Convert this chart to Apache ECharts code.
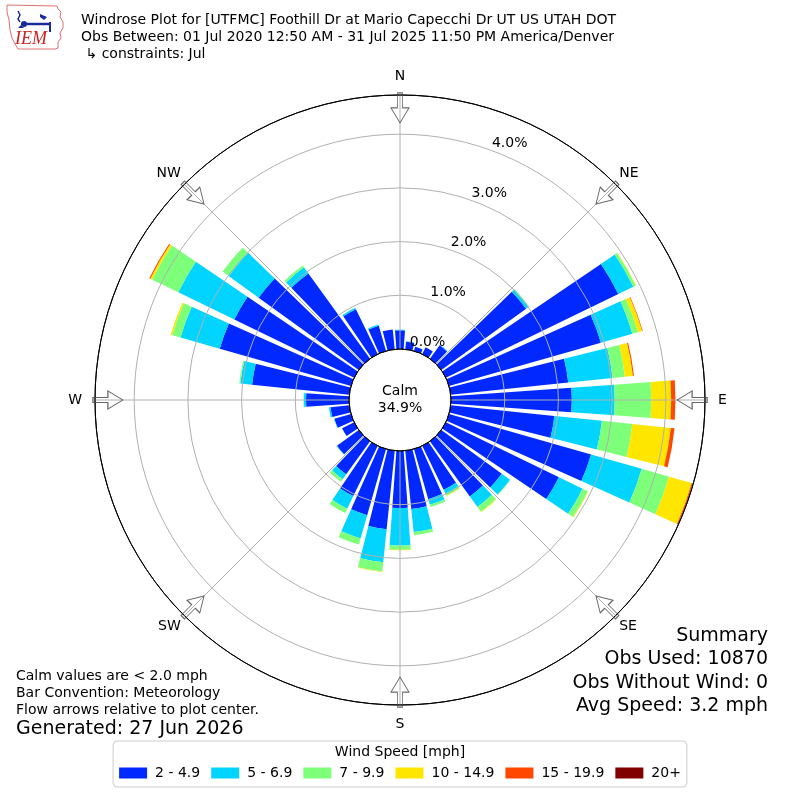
<!DOCTYPE html>
<html><head><meta charset="utf-8">
<script src="https://cdn.jsdelivr.net/npm/echarts@6/dist/echarts.min.js"></script>
<style>html,body{margin:0;padding:0;background:#fff}#c{width:800px;height:800px}</style>
</head><body><div id="c"></div>
<script>
// ---- data ----
const directions = [0,10,20,30,40,50,60,70,80,90,100,110,120,130,140,150,160,170,180,190,200,210,220,230,240,250,260,270,280,290,300,310,320,330,340,350];
const speedBins = ['2 - 4.9','5 - 6.9','7 - 9.9','10 - 14.9','15 - 19.9','20+'];
const binColors = ['#0028ff','#00d4ff','#7dff7a','#ffe600','#ff4700','#800000'];
// percent of observations per direction, per speed bin
const bin2to5   = [0.35,0.14,0.08,0.14,0.31,1.95,3.57,2.94,2.20,2.25,1.94,2.75,2.34,1.39,1.27,0.91,0.97,1.09,1.06,1.47,1.28,1.04,0.76,0.50,0.25,0.32,0.35,0.80,1.82,2.54,2.48,2.30,1.96,0.93,0.49,0.37];
const bin5to7   = [0.01,0.01,0.00,0.00,0.01,0.06,0.31,0.61,0.83,0.80,0.89,0.98,0.49,0.19,0.24,0.08,0.11,0.43,0.70,0.62,0.45,0.26,0.11,0.01,0.00,0.01,0.03,0.04,0.22,0.76,1.16,0.69,0.14,0.03,0.02,0.00];
const bin7to10  = [0,0,0,0,0,0.01,0.05,0.11,0.23,0.68,0.57,0.53,0.11,0.01,0.11,0.04,0.04,0.06,0.08,0.17,0.12,0.09,0.06,0,0,0,0,0.01,0.02,0.16,0.54,0.14,0.04,0,0,0];
const bin10to15 = [0,0,0,0,0,0,0.01,0.08,0.15,0.37,0.72,0.44,0.01,0,0.01,0.01,0,0,0.01,0.01,0,0,0,0,0,0,0,0,0,0.03,0.04,0,0,0,0,0];
const bin15to20 = [0,0,0,0,0,0,0,0.01,0.02,0.08,0.07,0.02,0,0,0,0,0,0,0,0,0,0,0,0,0,0,0,0,0,0,0.02,0,0,0,0,0];
const bin20plus = [0,0,0,0,0,0,0,0,0,0,0,0,0,0,0,0,0,0,0,0,0,0,0,0,0,0,0,0,0,0,0,0,0,0,0,0];
const radialTicks = [0,1,2,3,4];
const radialMax = 4.73;
const compassAngles = [0,45,90,135,180,225,270,315];
const compassNames = ['N','NE','E','SE','S','SW','W','NW'];
const calmPct = 34.9;
const titleLines = ['Windrose Plot for [UTFMC] Foothill Dr at Mario Capecchi Dr UT US UTAH DOT','Obs Between: 01 Jul 2020 12:50 AM - 31 Jul 2025 11:50 PM America/Denver',' \u21b3 constraints: Jul'];
const noteLines = ['Calm values are < 2.0 mph','Bar Convention: Meteorology','Flow arrows relative to plot center.'];
const generatedText = 'Generated: 27 Jun 2026';
const summaryLines = ['Summary','Obs Used: 10870','Obs Without Wind: 0','Avg Speed: 3.2 mph'];

const binData = [bin2to5,bin5to7,bin7to10,bin10to15,bin15to20,bin20plus];
const FONT = '"DejaVu Sans", sans-serif';
const arrowRadius = 4.49;

const chart = echarts.init(document.getElementById('c'), null, {renderer:'canvas'});

const polarRadius = [51, 305];
const barSeries = speedBins.map((name, i) => ({
  name: name, type: 'bar', coordinateSystem: 'polar', polarIndex: 1,
  stack: 'wind', barCategoryGap: '18%', data: binData[i],
  itemStyle: {color: binColors[i]}, silent: true, z: 2
}));

const arrowSeries = {
  type: 'scatter', coordinateSystem: 'polar', polarIndex: 0, silent: true, z: 20,
  symbol: 'path://M6.5,0L11.5,0L11.5,15L18,15L9,30L0,15L6.5,15Z',
  symbolSize: [18, 30], symbolKeepAspect: false,
  symbolRotate: function (v) { return -v[1]; },
  itemStyle: {color: 'rgba(255,255,255,0)', borderColor: '#444', borderWidth: 1},
  data: compassAngles.map(a => [arrowRadius, a])
};

const textEl = (x, y, text, size, align, extra) => Object.assign({
  type: 'text', x: x, y: y, silent: true,
  style: {text: text, font: 'normal ' + size + 'px ' + FONT, fill: '#000', align: align, verticalAlign: 'middle'}
}, extra || {});

const graphics = [];
titleLines.forEach((t, i) => graphics.push(textEl(81, 20 + i * 17, t, 14, 'left')));
graphics.push(textEl(400, 391, 'Calm', 14, 'center'));
graphics.push(textEl(400, 408, calmPct.toFixed(1) + '%', 14, 'center'));
noteLines.forEach((t, i) => graphics.push(textEl(16, 676 + i * 17, t, 14, 'left')));
graphics.push(textEl(16, 729, generatedText, 19, 'left'));
summaryLines.forEach((t, i) => graphics.push(textEl(768, 636 + i * 23.5, t, 19, 'right')));
graphics.push(textEl(400, 752, 'Wind Speed [mph]', 14, 'center'));
// IEM logo
graphics.push({type:'polyline', silent:true, shape:{points:[[7,5],[57,6],[58,9],[61,12],[60,17],[63,22],[63,28],[60,33],[61,38],[58,42],[58,48],[55,49],[18,49],[15,44],[12,38],[10,30],[9,20],[7,12],[7,5]]}, style:{fill:'none', stroke:'#e07070', lineWidth:1}});
graphics.push({type:'polyline', silent:true, shape:{points:[[21,24],[50,24]]}, style:{stroke:'#1a2a9a', lineWidth:2.5, fill:'none'}});
graphics.push({type:'polyline', silent:true, shape:{points:[[18,11],[20,15],[18,19],[20,22]]}, style:{stroke:'#1a2a9a', lineWidth:1.5, fill:'none'}});
graphics.push({type:'polyline', silent:true, shape:{points:[[50,22],[50,32]]}, style:{stroke:'#1a2a9a', lineWidth:2, fill:'none'}});
graphics.push({type:'polygon', silent:true, shape:{points:[[40,14],[47,17],[44,20],[40,17]]}, style:{fill:'#1a2a9a'}});
graphics.push({type:'circle', silent:true, shape:{cx:24, cy:24, r:3}, style:{fill:'#1a2a9a'}});
graphics.push({type:'polygon', silent:true, shape:{points:[[18,28],[21,25],[24,28]]}, style:{fill:'#1a2a9a'}});
graphics.push({type:'text', silent:true, x:15, y:39, style:{text:'IEM', font:'italic 18px "Liberation Serif", serif', fill:'#d02020', verticalAlign:'middle'}});

const compassRich = {
  n: {padding: [0, 0, 7, 0], fontSize: 14, fontFamily: FONT, color: '#000'},
  s: {padding: [7, 0, 0, 0], fontSize: 14, fontFamily: FONT, color: '#000'},
  e: {padding: [0, 0, 0, 8], fontSize: 14, fontFamily: FONT, color: '#000'},
  w: {padding: [0, 8, 0, 0], fontSize: 14, fontFamily: FONT, color: '#000'},
  d: {fontSize: 14, fontFamily: FONT, color: '#000'}
};
const compassStyleKey = {N: 'n', S: 's', E: 'e', W: 'w'};

const option = {
  animation: false,
  backgroundColor: '#fff',
  polar: [
    {center: ['50%', '50%'], radius: polarRadius},
    {center: ['50%', '50%'], radius: polarRadius},
    {center: ['50%', '50%'], radius: polarRadius}
  ],
  angleAxis: [
    {polarIndex: 0, type: 'value', min: 0, max: 360, interval: 45, startAngle: 90, clockwise: true, z: 10,
     axisLine: {show: true, lineStyle: {color: '#000', width: 1}},
     axisTick: {show: false},
     axisLabel: {show: true, margin: 5, color: '#000', fontSize: 14, fontFamily: FONT, rich: compassRich,
       formatter: function (v) {
         const i = compassAngles.indexOf(v);
         if (v >= 360 || i < 0) return '';
         const name = compassNames[i];
         return '{' + (compassStyleKey[name] || 'd') + '|' + name + '}';
       }},
     splitLine: {show: true, lineStyle: {color: '#b0b0b0', width: 1}}},
    {polarIndex: 1, type: 'category', data: directions.map(String), startAngle: 95, clockwise: true, boundaryGap: true, show: false},
    {polarIndex: 2, type: 'value', min: 0, max: 360, startAngle: 67.5, clockwise: true, show: false}
  ],
  radiusAxis: [
    {polarIndex: 0, type: 'value', min: 0, max: radialMax, interval: 1, z: 10,
     axisLine: {show: false}, axisTick: {show: false}, axisLabel: {show: false},
     splitLine: {show: true, lineStyle: {color: ['#000', '#b0b0b0', '#b0b0b0', '#b0b0b0', '#b0b0b0', '#000'], width: 1}}},
    {polarIndex: 1, type: 'value', min: 0, max: radialMax, show: false},
    {polarIndex: 2, type: 'value', min: 0, max: radialMax, interval: 1, z: 11,
     axisLine: {show: false}, axisTick: {show: false}, splitLine: {show: false},
     axisLabel: {show: true, margin: 0, showMaxLabel: false, align: 'center', verticalAlign: 'bottom',
       padding: [0, 0, 4, 16], color: '#000', fontSize: 14, fontFamily: FONT,
       formatter: function (v) { return radialTicks.indexOf(v) >= 0 ? v.toFixed(1) + '%' : ''; }}}
  ],
  legend: {
    data: speedBins, left: 'center', top: 741, orient: 'horizontal',
    itemWidth: 28, itemHeight: 11, itemGap: 11, icon: 'rect',
    padding: [25, 6, 7, 6], borderColor: '#cccccc', borderWidth: 1, borderRadius: 4,
    textStyle: {fontSize: 14, fontFamily: FONT, color: '#000', padding: [0, 0, 0, 3]},
    selectedMode: false
  },
  graphic: graphics,
  series: barSeries.concat([arrowSeries])
};
chart.setOption(option);
</script></body></html>
